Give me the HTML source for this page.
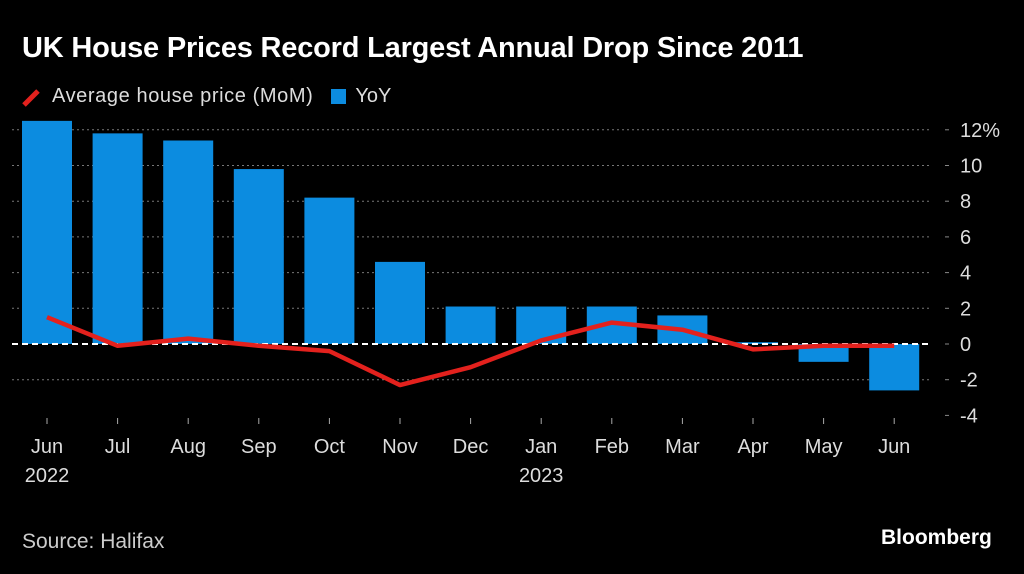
<!DOCTYPE html>
<html><head><meta charset="utf-8"><style>
html,body{margin:0;padding:0;background:#000;}
body{width:1024px;height:574px;overflow:hidden;font-family:"Liberation Sans",sans-serif;color:#fff;position:relative;}
</style></head><body>
<div style="position:absolute;left:22px;top:32px;font-size:29px;font-weight:bold;letter-spacing:-0.2px;">UK House Prices Record Largest Annual Drop Since 2011</div>
<div style="position:absolute;left:22px;top:85px;font-size:20px;color:#ddd;display:flex;align-items:center;">
 <span style="display:flex;align-items:center;"><svg width="24" height="20"><line x1="2" y1="18" x2="16" y2="4" stroke="#e3211d" stroke-width="5"/></svg><span style="margin-left:6px;letter-spacing:0.6px">Average house price (MoM)</span></span>
 <span style="display:flex;align-items:center;margin-left:18px;"><span style="display:inline-block;width:15px;height:15px;background:#0c8ce0"></span><span style="margin-left:9px">YoY</span></span>
</div>
<svg id="chart" width="1024" height="574" style="position:absolute;left:0;top:0"></svg>
<div style="position:absolute;left:22px;top:530px;font-size:21px;color:#ccc;">Source: Halifax</div>
<div style="position:absolute;left:881px;top:526px;font-size:21px;font-weight:bold;">Bloomberg</div>
<script>
const months=["Jun","Jul","Aug","Sep","Oct","Nov","Dec","Jan","Feb","Mar","Apr","May","Jun"];
const years=["2022","","","","","","","2023","","","","",""];
const yoy=[12.5,11.8,11.4,9.8,8.2,4.6,2.1,2.1,2.1,1.6,0.1,-1.0,-2.6];
const mom=[1.5,-0.1,0.3,-0.1,-0.4,-2.3,-1.3,0.2,1.2,0.8,-0.3,-0.1,-0.1];
const yTicks=[12,10,8,6,4,2,0,-2,-4];
const yTickLabels=["12%","10","8","6","4","2","0","-2","-4"];
const NS="http://www.w3.org/2000/svg";
const svg=document.getElementById('chart');
const y=v=>344-v*17.85;
const x=i=>47+i*70.6;
function mk(t,a){const e=document.createElementNS(NS,t);for(const k in a)e.setAttribute(k,a[k]);svg.appendChild(e);return e;}
yTicks.forEach((t,i)=>{
 if(t!==0&&t!==-4){const g=mk('line',{x1:12,x2:930,y1:y(t),y2:y(t),stroke:'#777','stroke-width':1,'stroke-dasharray':'2,3'});
 
 }
 const tk=mk('line',{x1:945,x2:949,y1:y(t),y2:y(t),stroke:'#888'});
 
 
 const tx=mk('text',{x:960,y:y(t)+7,fill:'#ddd','font-size':20,'font-family':'Liberation Sans, sans-serif'});
 tx.textContent=yTickLabels[i];
 
 
});
yoy.forEach((v,i)=>{
 const r=mk('rect',{x:x(i)-25,width:50,y:Math.min(y(v),y(0)),height:Math.abs(y(v)-y(0)),fill:'#0c8ce0'});
 
 
});
months.forEach((m,i)=>{
 const tk=mk('line',{x1:x(i),x2:x(i),y1:418,y2:424,stroke:'#aaa'});
 
 
 const t=mk('text',{x:x(i),y:453,fill:'#ddd','font-size':20,'text-anchor':'middle','font-family':'Liberation Sans, sans-serif'});
 t.textContent=m;
 
 
 if(years[i]){const t2=mk('text',{x:x(i),y:482,fill:'#ddd','font-size':20,'text-anchor':'middle','font-family':'Liberation Sans, sans-serif'});
 t2.textContent=years[i];
 
 }
});
const z=mk('line',{x1:12,x2:930,y1:y(0),y2:y(0),stroke:'#fff','stroke-width':2,'stroke-dasharray':'6,4'});


const pl=mk('polyline',{points:mom.map((v,i)=>x(i)+','+y(v)).join(' '),fill:'none',stroke:'#e3211d','stroke-width':4.5,'stroke-linejoin':'round'});


</script>
</body></html>
